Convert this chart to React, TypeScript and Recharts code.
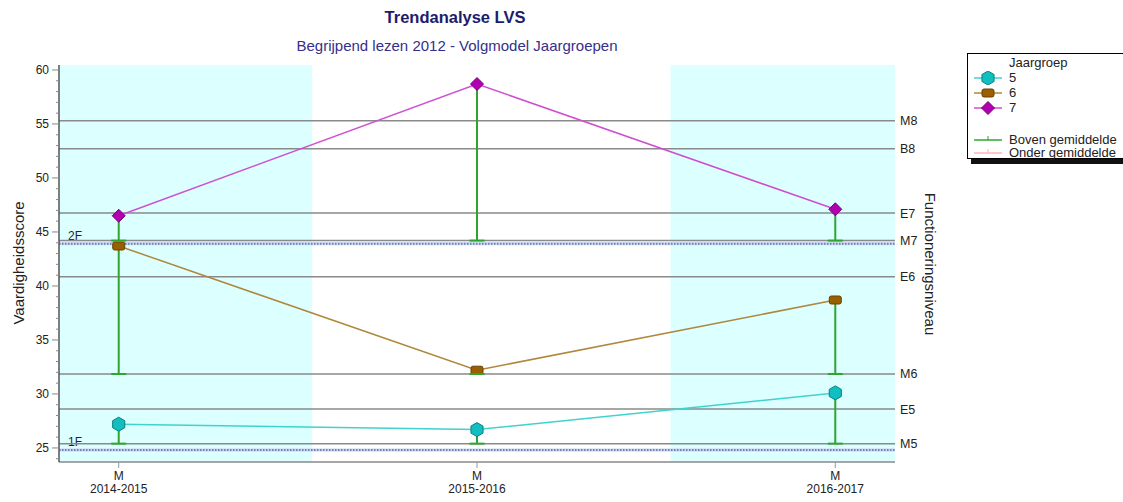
import React from 'react'
import { ComposedChart, Line, Scatter, XAxis, YAxis, ReferenceLine, ReferenceArea, ErrorBar } from 'recharts'

const periodes = ['2014-2015', '2015-2016', '2016-2017']
const meetmomenten = ['M', 'M', 'M']
const groep5 = [27.2, 26.7, 30.1]
const groep6 = [43.7, 32.2, 38.7]
const groep7 = [46.5, 58.7, 47.1]
// gemiddelde (M-niveau) per jaargroep
const gemiddelde5 = 25.4
const gemiddelde6 = 31.85
const gemiddelde7 = 44.2

const niveauLabels = ['M8', 'B8', 'E7', 'M7', 'E6', 'M6', 'E5', 'M5']
const niveauWaarden = [55.3, 52.7, 46.75, 44.2, 40.85, 31.85, 28.6, 25.4]
const referentieLabels = ['2F', '1F']
const referentieWaarden = [43.9, 24.8]

const FONT = 'Arial, "Liberation Sans", sans-serif'
const GROEN = '#2fa52f'

const yTicks: number[] = []
for (let v = 24; v <= 60; v++) yTicks.push(v)

const data = periodes.map((p, i) => ({
  x: i,
  periode: p,
  moment: meetmomenten[i],
  g5: groep5[i],
  g6: groep6[i],
  g7: groep7[i],
  e5: [groep5[i] - gemiddelde5, 0],
  e6: [groep6[i] - gemiddelde6, 0],
  e7: [groep7[i] - gemiddelde7, 0],
}))

const caps = periodes.flatMap((_, i) => [
  { x: i, y: gemiddelde5 },
  { x: i, y: gemiddelde6 },
  { x: i, y: gemiddelde7 },
])

function Hexagon({ cx, cy }: any) {
  if (cx == null || cy == null) return null
  const r = 7
  const pts = [0, 60, 120, 180, 240, 300]
    .map((a) => {
      const rad = ((a - 90) * Math.PI) / 180
      return `${cx + r * Math.cos(rad)},${cy + r * Math.sin(rad)}`
    })
    .join(' ')
  return <polygon points={pts} fill="#12bfc0" stroke="#0a7f80" strokeWidth={1} />
}

function Blokje({ cx, cy }: any) {
  if (cx == null || cy == null) return null
  return <rect x={cx - 6} y={cy - 4} width={12} height={8} rx={2} fill="#9a6000" stroke="#6a4000" strokeWidth={1} />
}

function Ruit({ cx, cy }: any) {
  if (cx == null || cy == null) return null
  const r = 6.5
  return (
    <polygon
      points={`${cx},${cy - r} ${cx + r},${cy} ${cx},${cy + r} ${cx - r},${cy}`}
      fill="#b000b0"
      stroke="#7a007a"
      strokeWidth={1}
    />
  )
}

function Cap({ cx, cy }: any) {
  return <line x1={cx - 7.5} x2={cx + 7.5} y1={cy} y2={cy} stroke={GROEN} strokeWidth={2} />
}

function YTick({ x, y, payload }: any) {
  const major = payload.value % 5 === 0
  return (
    <g>
      <line x1={x - (major ? 7 : 3)} x2={x} y1={y} y2={y} stroke="#888" strokeWidth={1} />
      {major && (
        <text x={x - 10} y={y} dy={4} textAnchor="end" fontSize={12} fill="#222" fontFamily={FONT}>
          {payload.value}
        </text>
      )}
    </g>
  )
}

function XTick({ x, y, payload }: any) {
  const i = payload.value
  return (
    <g>
      <line x1={x} x2={x} y1={y} y2={y + 6} stroke="#999" strokeWidth={1} />
      <text x={x} y={y + 18} textAnchor="middle" fontSize={12} fill="#222" fontFamily={FONT}>
        {meetmomenten[i]}
      </text>
      <text x={x} y={y + 31} textAnchor="middle" fontSize={12} fill="#222" fontFamily={FONT}>
        {periodes[i]}
      </text>
    </g>
  )
}

const refLabel = (tekst: string) => (props: any) => {
  const vb = props.viewBox || {}
  return (
    <text x={vb.x + 9} y={vb.y - 4} fontSize={12} fill="#2a1a40" fontFamily={FONT}>
      {tekst}
    </text>
  )
}

function LegendSymbool({ kleur, marker }: { kleur: string; marker: string }) {
  return (
    <svg width={30} height={14} style={{ position: 'absolute', left: 5, top: -7 }}>
      <line x1={1} x2={29} y1={7} y2={7} stroke={kleur} strokeWidth={1.5} />
      {marker === 'hex' && <Hexagon cx={15} cy={7} />}
      {marker === 'blok' && <Blokje cx={15} cy={7} />}
      {marker === 'ruit' && <Ruit cx={15} cy={7} />}
      {marker === 'tick' && <line x1={15} x2={15} y1={3} y2={7} stroke={kleur} strokeWidth={1} />}
    </svg>
  )
}

const legendItems = [
  { tekst: '5', kleur: '#3fd3cf', marker: 'hex', y: 24 },
  { tekst: '6', kleur: '#b0883c', marker: 'blok', y: 39 },
  { tekst: '7', kleur: '#cf50cf', marker: 'ruit', y: 54 },
  { tekst: 'Boven gemiddelde', kleur: GROEN, marker: 'tick', y: 86 },
  { tekst: 'Onder gemiddelde', kleur: '#ffb4b4', marker: 'tick', y: 99 },
]

export default function App() {
  return (
    <div style={{ position: 'absolute', left: 0, top: 0, width: 1123, height: 502, background: '#fff', fontFamily: FONT, overflow: 'hidden' }}>
      <div style={{ position: 'absolute', left: 455, top: 17, transform: 'translate(-50%,-50%)', fontSize: 16.5, fontWeight: 700, color: '#1c1c6c', whiteSpace: 'nowrap' }}>
        Trendanalyse LVS
      </div>
      <div style={{ position: 'absolute', left: 457, top: 45, transform: 'translate(-50%,-50%)', fontSize: 15, color: '#35308a', whiteSpace: 'nowrap' }}>
        Begrijpend lezen 2012 - Volgmodel Jaargroepen
      </div>
      <div style={{ position: 'absolute', left: 18, top: 263, transform: 'translate(-50%,-50%) rotate(-90deg)', fontSize: 15, color: '#222', whiteSpace: 'nowrap' }}>
        Vaardigheidsscore
      </div>
      <div style={{ position: 'absolute', left: 930, top: 264, transform: 'translate(-50%,-50%) rotate(90deg)', fontSize: 15, color: '#222', whiteSpace: 'nowrap' }}>
        Functioneringsniveau
      </div>

      <ComposedChart width={1123} height={502} data={data} margin={{ top: 65, right: 228, bottom: 0, left: 14 }}>
        <XAxis
          type="number"
          dataKey="x"
          domain={[-1 / 6, 13 / 6]}
          ticks={[0, 1, 2]}
          interval={0}
          tick={<XTick />}
          tickLine={false}
          tickSize={0}
          tickMargin={0}
          axisLine={{ stroke: '#888', strokeWidth: 1.5 }}
          height={40}
          allowDataOverflow
        />
        <YAxis
          type="number"
          domain={[23.7, 60.46]}
          ticks={yTicks}
          interval={0}
          tick={<YTick />}
          tickLine={false}
          tickSize={0}
          tickMargin={0}
          axisLine={{ stroke: '#555', strokeWidth: 1.5 }}
          width={45}
          allowDataOverflow
        />
        <ReferenceArea x1={-1 / 6} x2={0.54} y1={23.7} y2={60.46} fill="#dcffff" fillOpacity={1} stroke="none" />
        <ReferenceArea x1={1.54} x2={13 / 6} y1={23.7} y2={60.46} fill="#dcffff" fillOpacity={1} stroke="none" />

        {referentieWaarden.map((v, i) => (
          <ReferenceLine key={'rb' + i} y={v} stroke="#c9d5ee" strokeWidth={3} />
        ))}
        {referentieWaarden.map((v, i) => (
          <ReferenceLine
            key={'rd' + i}
            y={v}
            stroke="#6e82b8"
            strokeWidth={2}
            strokeDasharray="1.5 1.5"
            label={refLabel(referentieLabels[i])}
          />
        ))}
        {niveauWaarden.map((v, i) => (
          <ReferenceLine
            key={'n' + i}
            y={v}
            stroke="#8a8a8a"
            strokeWidth={1.5}
            label={{ value: niveauLabels[i], position: 'right', fill: '#222', fontSize: 12.5, fontFamily: FONT }}
          />
        ))}

        <Line dataKey="g7" stroke="#cf50cf" strokeWidth={1.5} dot={<Ruit />} activeDot={false} isAnimationActive={false}>
          <ErrorBar dataKey="e7" width={0} stroke={GROEN} strokeWidth={2} direction="y" />
        </Line>
        <Line dataKey="g6" stroke="#b0883c" strokeWidth={1.5} dot={<Blokje />} activeDot={false} isAnimationActive={false}>
          <ErrorBar dataKey="e6" width={0} stroke={GROEN} strokeWidth={2} direction="y" />
        </Line>
        <Line dataKey="g5" stroke="#3fd3cf" strokeWidth={1.5} dot={<Hexagon />} activeDot={false} isAnimationActive={false}>
          <ErrorBar dataKey="e5" width={0} stroke={GROEN} strokeWidth={2} direction="y" />
        </Line>
        <Scatter data={caps} dataKey="y" shape={<Cap />} isAnimationActive={false} />
      </ComposedChart>

      <div style={{ position: 'absolute', left: 967, top: 53, width: 170, height: 104, border: '1px solid #000', background: '#fff', boxShadow: '4px 5px 0 #111', fontSize: 13, color: '#222' }}>
        <div style={{ position: 'absolute', left: 41, top: 1 }}>Jaargroep</div>
        {legendItems.map((it) => (
          <div key={it.tekst} style={{ position: 'absolute', left: 0, top: it.y, width: '100%' }}>
            <LegendSymbool kleur={it.kleur} marker={it.marker} />
            <div style={{ position: 'absolute', left: 41, top: -8, whiteSpace: 'nowrap', lineHeight: '15px' }}>{it.tekst}</div>
          </div>
        ))}
      </div>
    </div>
  )
}
